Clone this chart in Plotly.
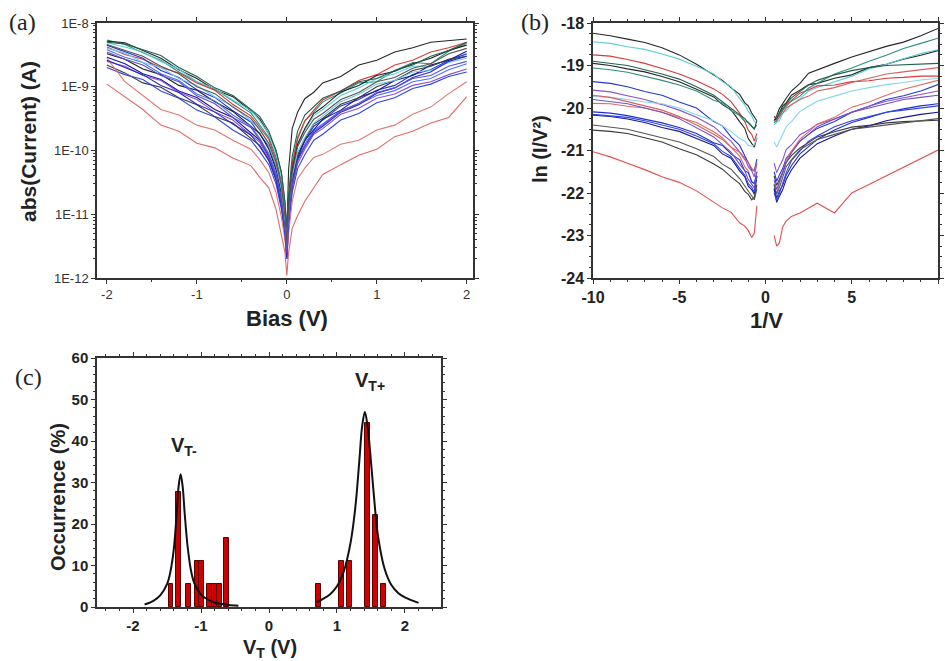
import plotly.graph_objects as go

# ---------------- Panel (a): |I| vs bias ----------------
a_bias = [-2.0, -1.8, -1.6, -1.4, -1.2, -1.0, -0.8, -0.6, -0.4, -0.3, -0.2, -0.12, -0.06, -0.02, 0.0,
          0.02, 0.06, 0.12, 0.2, 0.3, 0.4, 0.6, 0.8, 1.0, 1.2, 1.4, 1.6, 1.8, 2.0]

ia_01 = [5.4e-9, 4.6e-9, 3.4e-9, 2.6e-9, 1.7e-9, 1.2e-9, 9.2e-10, 6.0e-10, 3.9e-10, 2.5e-10, 1.6e-10, 7.9e-11, 3.2e-11, 1.0e-11, 4e-12,
         1.3e-11, 6.3e-11, 1.6e-10, 2.9e-10, 4.0e-10, 5.8e-10, 8.0e-10, 1.15e-9, 1.2e-9, 1.8e-9, 2.4e-9, 2.3e-9, 3.6e-9, 4.8e-9]
ia_02 = [5.2e-9, 4.9e-9, 3.7e-9, 2.8e-9, 1.85e-9, 1.35e-9, 9.0e-10, 7.0e-10, 4.2e-10, 3.1e-10, 1.8e-10, 1.0e-10, 4.5e-11, 1.5e-11, 5e-12,
         5e-11, 2.2e-10, 4.0e-10, 6.5e-10, 8.2e-10, 1.15e-9, 1.45e-9, 2.2e-9, 2.6e-9, 3.5e-9, 4.1e-9, 5.0e-9, 5.3e-9, 5.6e-9]
ia_03 = [4.9e-9, 4.2e-9, 3.5e-9, 2.5e-9, 1.9e-9, 1.2e-9, 9.3e-10, 6.2e-10, 4.3e-10, 2.9e-10, 1.8e-10, 9e-11, 4e-11, 1.3e-11, 5e-12,
         1.5e-11, 5e-11, 1.3e-10, 2.1e-10, 3.5e-10, 4.4e-10, 7.3e-10, 9.6e-10, 1.35e-9, 1.6e-9, 2.1e-9, 2.1e-9, 2.7e-9, 3.2e-9]
ia_04 = [4.2e-9, 3.2e-9, 2.7e-9, 2.0e-9, 1.65e-9, 1.15e-9, 8.8e-10, 5.3e-10, 3.5e-10, 2.3e-10, 1.5e-10, 7e-11, 3e-11, 1e-11, 4e-12,
         1.5e-11, 6e-11, 1.5e-10, 2.9e-10, 4.3e-10, 6.2e-10, 8.6e-10, 1.25e-9, 1.55e-9, 2.2e-9, 2.6e-9, 3.5e-9, 4.1e-9, 5.0e-9]
ia_05 = [4.5e-9, 3.5e-9, 2.8e-9, 1.8e-9, 1.4e-9, 9.0e-10, 6.8e-10, 4.2e-10, 2.8e-10, 1.8e-10, 1.15e-10, 5.5e-11, 2.2e-11, 8e-12, 3e-12,
         1e-11, 3.5e-11, 8.5e-11, 1.4e-10, 2.4e-10, 3.0e-10, 5.0e-10, 6.3e-10, 8.8e-10, 1.05e-9, 1.55e-9, 1.85e-9, 2.6e-9, 3.3e-9]
ia_06 = [3.3e-9, 2.7e-9, 1.9e-9, 1.55e-9, 1.05e-9, 8.8e-10, 5.8e-10, 4.1e-10, 2.4e-10, 1.85e-10, 1.05e-10, 5e-11, 2e-11, 7e-12, 3e-12,
         1.2e-11, 5e-11, 1.25e-10, 2.2e-10, 3.8e-10, 4.8e-10, 8.3e-10, 1.05e-9, 1.5e-9, 1.75e-9, 2.3e-9, 2.8e-9, 3.7e-9, 4.5e-9]
ia_07 = [3.8e-9, 2.9e-9, 2.4e-9, 1.6e-9, 1.25e-9, 7.7e-10, 6.0e-10, 3.6e-10, 2.4e-10, 1.55e-10, 9e-11, 4.5e-11, 1.8e-11, 6e-12, 2.5e-12,
         8e-12, 3e-11, 7.3e-11, 1.25e-10, 2.1e-10, 2.6e-10, 4.2e-10, 5.3e-10, 7.3e-10, 8.7e-10, 1.2e-9, 1.35e-9, 1.85e-9, 2.3e-9]
ia_08 = [2.9e-9, 2.3e-9, 1.6e-9, 1.3e-9, 8.6e-10, 6.8e-10, 4.4e-10, 3.3e-10, 1.9e-10, 1.45e-10, 8e-11, 4e-11, 1.6e-11, 6e-12, 2.5e-12,
         9e-12, 3.5e-11, 7.6e-11, 1.45e-10, 2.1e-10, 3.1e-10, 4.3e-10, 6.8e-10, 8.6e-10, 1.25e-9, 1.5e-9, 2.2e-9, 2.6e-9, 3.6e-9]
ia_09 = [2.5e-9, 2.1e-9, 1.5e-9, 1.25e-9, 8.2e-10, 6.3e-10, 4.0e-10, 3.0e-10, 1.75e-10, 1.35e-10, 7.5e-11, 3.6e-11, 1.5e-11, 5e-12, 2.2e-12,
         7e-12, 2.5e-11, 6.2e-11, 1.05e-10, 1.8e-10, 2.2e-10, 3.7e-10, 4.6e-10, 6.6e-10, 7.7e-10, 1.05e-9, 1.2e-9, 1.55e-9, 1.9e-9]
ia_10 = [2.2e-9, 1.65e-9, 1.15e-9, 9.8e-10, 6.7e-10, 5.2e-10, 3.4e-10, 2.7e-10, 1.55e-10, 1.2e-10, 7e-11, 3.5e-11, 1.4e-11, 5e-12, 2e-12,
         7e-12, 3e-11, 8.4e-11, 1.5e-10, 2.6e-10, 3.2e-10, 5.3e-10, 6.7e-10, 1.0e-9, 1.25e-9, 1.8e-9, 2.1e-9, 2.7e-9, 3.0e-9]
ia_11 = [2.0e-9, 1.55e-9, 1.3e-9, 8.6e-10, 6.6e-10, 4.3e-10, 3.35e-10, 2.1e-10, 1.45e-10, 9.6e-11, 6e-11, 3e-11, 1.2e-11, 4.5e-12, 2e-12,
         6e-12, 2.2e-11, 5.2e-11, 8.6e-11, 1.45e-10, 1.8e-10, 3.0e-10, 3.8e-10, 5.6e-10, 6.7e-10, 9.4e-10, 1.1e-9, 1.45e-9, 1.7e-9]
ia_12 = [4.0e-9, 3.4e-9, 2.4e-9, 2.0e-9, 1.35e-9, 1.05e-9, 6.9e-10, 5.0e-10, 2.9e-10, 2.2e-10, 1.2e-10, 6e-11, 2.5e-11, 8e-12, 3e-12,
         1e-11, 4e-11, 9.5e-11, 1.6e-10, 2.7e-10, 3.5e-10, 5.8e-10, 7.6e-10, 1.1e-9, 1.25e-9, 1.7e-9, 1.8e-9, 2.4e-9, 2.8e-9]
ia_13 = [1.1e-9, 7.0e-10, 4.4e-10, 2.5e-10, 2.0e-10, 1.3e-10, 1.1e-10, 7.6e-11, 5.8e-11, 3.8e-11, 2.6e-11, 1.2e-11, 4.5e-12, 2.5e-12, 1.1e-12,
         2.5e-12, 6e-12, 9.5e-12, 1.6e-11, 2.6e-11, 4.2e-11, 6.0e-11, 8.4e-11, 1.05e-10, 1.65e-10, 2.0e-10, 2.7e-10, 3.3e-10, 7.0e-10]
ia_14 = [2.8e-9, 1.2e-9, 7.3e-10, 4.4e-10, 3.6e-10, 2.5e-10, 2.1e-10, 1.45e-10, 1.05e-10, 7.2e-11, 4.5e-11, 2.2e-11, 9e-12, 4e-12, 2e-12,
         5e-12, 1.6e-11, 3.6e-11, 5.3e-11, 7.8e-11, 8.7e-11, 1.25e-10, 1.45e-10, 2.1e-10, 2.5e-10, 3.7e-10, 4.8e-10, 7.8e-10, 1.2e-9]
ia_15 = [5.0e-9, 4.7e-9, 3.8e-9, 3.1e-9, 2.0e-9, 1.45e-9, 9.6e-10, 7.3e-10, 4.4e-10, 3.4e-10, 2.0e-10, 1.0e-10, 4.5e-11, 1.5e-11, 6e-12,
         2e-11, 8e-11, 2.0e-10, 3.6e-10, 4.8e-10, 6.6e-10, 8.6e-10, 1.2e-9, 1.35e-9, 1.8e-9, 2.2e-9, 3.0e-9, 3.7e-9, 5.0e-9]
ia_16 = [2.6e-9, 2.0e-9, 1.55e-9, 1.05e-9, 8.1e-10, 5.3e-10, 4.0e-10, 2.6e-10, 1.75e-10, 1.15e-10, 7e-11, 3.5e-11, 1.4e-11, 5e-12, 2e-12,
         8e-12, 3e-11, 7.3e-11, 1.15e-10, 1.9e-10, 2.4e-10, 4.0e-10, 5.2e-10, 7.9e-10, 9.6e-10, 1.4e-9, 1.7e-9, 2.5e-9, 3.0e-9]
ia_17 = [4.6e-9, 3.7e-9, 3.0e-9, 2.1e-9, 1.6e-9, 1.0e-9, 7.8e-10, 4.8e-10, 3.2e-10, 2.1e-10, 1.3e-10, 6.5e-11, 2.8e-11, 9e-12, 3.5e-12,
         1.2e-11, 4.5e-11, 1.15e-10, 1.9e-10, 3.1e-10, 3.8e-10, 6.3e-10, 8.1e-10, 1.2e-9, 1.4e-9, 1.95e-9, 2.3e-9, 3.3e-9, 4.0e-9]
ia_18 = [3.5e-9, 2.7e-9, 2.2e-9, 1.5e-9, 1.2e-9, 7.2e-10, 5.4e-10, 3.3e-10, 2.3e-10, 1.45e-10, 8.5e-11, 4e-11, 1.6e-11, 5.5e-12, 2.5e-12,
         8e-12, 2.8e-11, 6.8e-11, 1.15e-10, 2.0e-10, 2.5e-10, 4.2e-10, 5.5e-10, 8.1e-10, 9.6e-10, 1.35e-9, 1.5e-9, 2.1e-9, 2.5e-9]

a_curves = [ia_01, ia_02, ia_03, ia_04, ia_05, ia_06, ia_07, ia_08, ia_09,
            ia_10, ia_11, ia_12, ia_13, ia_14, ia_15, ia_16, ia_17, ia_18]
a_colors = ["#2f8f80", "#262626", "#5ccfd8", "#d83a3a", "#2636d8", "#1e1e1e", "#4a70ff", "#1414a0", "#8a50d0",
            "#3a3a3a", "#3044e8", "#70c8e8", "#e06a6a", "#e07878", "#24604c", "#2828c8", "#555555", "#6050c8"]
a_xtick_vals = [-2, -1, 0, 1, 2]
a_xtick_text = ["-2", "-1", "0", "1", "2"]
a_ytick_vals = [1e-12, 1e-11, 1e-10, 1e-9, 1e-8]
a_ytick_text = ["1E-12", "1E-11", "1E-10", "1E-9", "1E-8"]

# ---------------- Panel (b): ln(I/V^2) vs 1/V ----------------
b_inv_v = [-10, -9, -8, -7, -6, -5, -4, -3, -2.5, -2, -1.5, -1.2, -1, -0.8, -0.65, -0.5, None,
           0.5, 0.65, 0.8, 1, 1.2, 1.5, 2, 2.5, 3, 4, 5, 6, 7, 8, 9, 10]

lb_01 = [-18.24, -18.30, -18.38, -18.46, -18.58, -18.75, -18.97, -19.22, -19.35, -19.52, -19.68, -19.88, -19.95, -20.12, -20.2, -20.3, None,
         -20.3, -20.25, -20.12, -19.95, -19.88, -19.7, -19.58, -19.45, -19.42, -19.3, -19.22, -19.05, -18.97, -18.85, -18.76, -18.65]
lb_02 = [-18.44, -18.48, -18.56, -18.62, -18.73, -18.85, -19.02, -19.2, -19.38, -19.5, -19.78, -19.93, -20.08, -20.18, -20.32, -20.35, None,
         -20.4, -20.33, -20.3, -20.12, -20.06, -19.92, -19.78, -19.6, -19.52, -19.38, -19.25, -19.08, -18.97, -18.84, -18.72, -18.63]
lb_03 = [-18.75, -18.78, -18.86, -18.95, -19.07, -19.2, -19.36, -19.55, -19.68, -19.85, -20.12, -20.32, -20.52, -20.62, -20.78, -20.6, None,
         -20.2, -20.27, -20.18, -20.06, -19.93, -19.82, -19.65, -19.57, -19.48, -19.46, -19.38, -19.36, -19.3, -19.28, -19.25, -19.25]
lb_04 = [-18.95, -19.0, -19.08, -19.15, -19.26, -19.38, -19.56, -19.74, -19.92, -20.04, -20.32, -20.48, -20.72, -20.84, -20.92, -20.7, None,
         -20.3, -20.18, -20.02, -19.88, -19.77, -19.6, -19.42, -19.18, -19.1, -18.95, -18.8, -18.68, -18.55, -18.45, -18.3, -18.13]
lb_05 = [-19.06, -19.1, -19.16, -19.25, -19.35, -19.46, -19.6, -19.82, -19.88, -20.06, -20.18, -20.32, -20.33, -20.42, -20.48, -20.4, None,
         -20.35, -20.28, -20.22, -20.04, -19.96, -19.84, -19.72, -19.53, -19.42, -19.2, -19.06, -18.9, -18.76, -18.6, -18.48, -18.36]
lb_06 = [-19.38, -19.42, -19.5, -19.61, -19.7, -19.86, -20.0, -20.32, -20.42, -20.68, -20.88, -21.14, -21.28, -21.45, -21.48, -21.2, None,
         -21.5, -21.72, -21.58, -21.42, -21.18, -21.03, -20.78, -20.62, -20.48, -20.32, -20.1, -19.96, -19.8, -19.71, -19.6, -19.45]
lb_07 = [-19.58, -19.62, -19.71, -19.8, -19.92, -20.05, -20.22, -20.44, -20.62, -20.78, -21.04, -21.18, -21.38, -21.48, -21.62, -21.3, None,
         -21.3, -21.52, -21.38, -21.22, -20.98, -20.87, -20.63, -20.52, -20.38, -20.26, -20.1, -19.96, -19.84, -19.76, -19.68, -19.6]
lb_08 = [-19.73, -19.75, -19.8, -19.86, -19.9, -20.0, -20.16, -20.3, -20.42, -20.55, -20.72, -20.78, -20.88, -20.9, -20.86, -20.7, None,
         -20.8, -20.92, -20.78, -20.62, -20.44, -20.32, -20.08, -19.96, -19.84, -19.72, -19.6, -19.52, -19.45, -19.4, -19.34, -19.3]
lb_09 = [-19.89, -19.9, -19.96, -20.0, -20.1, -20.22, -20.34, -20.56, -20.7, -20.92, -21.13, -21.38, -21.48, -21.72, -21.78, -21.7, None,
         -21.9, -22.02, -21.78, -21.52, -21.22, -21.02, -20.73, -20.56, -20.38, -20.22, -19.98, -19.86, -19.7, -19.56, -19.45, -19.35]
lb_10 = [-20.09, -20.12, -20.18, -20.26, -20.35, -20.46, -20.6, -20.82, -20.88, -21.08, -21.22, -21.48, -21.52, -21.74, -21.78, -21.5, None,
         -21.8, -22.12, -21.96, -21.82, -21.58, -21.36, -21.08, -20.92, -20.74, -20.52, -20.34, -20.22, -20.1, -20.02, -19.95, -19.9]
lb_11 = [-20.17, -20.2, -20.26, -20.34, -20.46, -20.55, -20.72, -20.88, -21.08, -21.18, -21.48, -21.62, -21.84, -21.92, -22.02, -21.6, None,
         -21.9, -22.22, -22.08, -21.92, -21.68, -21.46, -21.18, -21.02, -20.84, -20.66, -20.5, -20.42, -20.3, -20.22, -20.15, -20.1]
lb_12 = [-20.52, -20.55, -20.6, -20.7, -20.8, -20.96, -21.1, -21.32, -21.44, -21.62, -21.78, -21.96, -22.03, -22.16, -22.1, -21.8, None,
         -21.6, -21.82, -21.68, -21.52, -21.28, -21.12, -20.94, -20.82, -20.68, -20.56, -20.45, -20.41, -20.35, -20.32, -20.3, -20.29]
lb_13 = [-21.03, -21.15, -21.3, -21.45, -21.62, -21.75, -21.95, -22.22, -22.35, -22.45, -22.7, -22.78, -22.88, -23.05, -22.95, -22.3, None,
         -23.0, -23.25, -23.18, -22.8, -22.66, -22.55, -22.47, -22.36, -22.24, -22.47, -22.0, -21.8, -21.6, -21.4, -21.2, -20.99]
lb_14 = [-18.9, -18.95, -19.0, -19.1, -19.2, -19.32, -19.5, -19.7, -19.85, -20.0, -20.15, -20.25, -20.35, -20.45, -20.5, -20.3, None,
         -20.2, -20.25, -20.12, -20.0, -19.9, -19.76, -19.6, -19.46, -19.35, -19.22, -19.12, -19.05, -19.0, -18.98, -18.96, -18.95]
lb_15 = [-20.15, -20.18, -20.22, -20.3, -20.4, -20.5, -20.66, -20.84, -21.02, -21.14, -21.42, -21.58, -21.78, -21.86, -21.98, -21.6, None,
         -22.0, -22.18, -22.02, -21.74, -21.52, -21.24, -21.02, -20.78, -20.66, -20.44, -20.3, -20.2, -20.1, -20.05, -20.0, -19.95]
lb_16 = [-19.8, -19.85, -19.9, -20.0, -20.1, -20.25, -20.46, -20.68, -20.86, -21.04, -21.32, -21.48, -21.68, -21.78, -21.88, -21.5, None,
         -21.7, -21.92, -21.74, -21.52, -21.28, -21.06, -20.78, -20.62, -20.44, -20.26, -20.1, -20.0, -19.9, -19.8, -19.75, -19.7]
lb_17 = [-20.4, -20.45, -20.5, -20.6, -20.7, -20.8, -20.96, -21.14, -21.32, -21.44, -21.66, -21.84, -21.97, -22.08, -22.16, -21.9, None,
         -21.8, -22.02, -21.88, -21.62, -21.38, -21.22, -20.98, -20.86, -20.74, -20.62, -20.5, -20.45, -20.4, -20.35, -20.3, -20.25]
lb_18 = [-19.7, -19.75, -19.85, -19.95, -20.05, -20.2, -20.4, -20.62, -20.74, -20.92, -21.04, -21.22, -21.28, -21.42, -21.48, -21.3, None,
         -20.3, -20.32, -20.2, -20.12, -20.0, -19.92, -19.8, -19.72, -19.6, -19.52, -19.4, -19.3, -19.2, -19.15, -19.1, -19.05]

b_curves = [lb_01, lb_02, lb_03, lb_04, lb_05, lb_06, lb_07, lb_08, lb_09,
            lb_10, lb_11, lb_12, lb_13, lb_14, lb_15, lb_16, lb_17, lb_18]
b_colors = ["#262626", "#5ccfd8", "#d83a3a", "#262626", "#2f8f80", "#2636d8", "#8a50d0", "#80d8e8", "#e06a6a",
            "#2030c8", "#1414a0", "#3a3a3a", "#e05050", "#24604c", "#3044e8", "#7050c8", "#555555", "#d86060"]
b_xtick_vals = [-10, -5, 0, 5, 10]
b_xtick_text = ["<b>-10</b>", "<b>-5</b>", "<b>0</b>", "<b>5</b>", "<b>10</b>"]
b_ytick_vals = [-24, -23, -22, -21, -20, -19, -18]
b_ytick_text = ["<b>-24</b>", "<b>-23</b>", "<b>-22</b>", "<b>-21</b>", "<b>-20</b>", "<b>-19</b>", "<b>-18</b>"]

# ---------------- Panel (c): histogram of V_T ----------------
c_neg_vt = [-1.44, -1.335, -1.18, -1.06, -0.995, -0.875, -0.80, -0.725, -0.63]
c_neg_occ = [5.56, 27.78, 5.56, 11.11, 11.11, 5.56, 5.56, 5.56, 16.67]
c_pos_vt = [0.73, 1.07, 1.19, 1.455, 1.56, 1.685]
c_pos_occ = [5.56, 11.11, 11.11, 44.44, 22.22, 5.56]

c_fit_neg_x = [-1.83, -1.70, -1.60, -1.50, -1.45, -1.40, -1.36, -1.33, -1.30, -1.27, -1.24, -1.20, -1.15,
               -1.10, -1.00, -0.90, -0.80, -0.70, -0.60, -0.45]
c_fit_neg_y = [0.6, 1.5, 2.8, 5.5, 8.5, 14.0, 22.0, 29.0, 32.0, 29.0, 22.5, 15.0, 9.0,
               5.8, 3.0, 1.8, 1.1, 0.7, 0.5, 0.3]
c_fit_pos_x = [0.70, 0.80, 0.90, 1.00, 1.10, 1.20, 1.27, 1.33, 1.37, 1.41, 1.45, 1.50, 1.55, 1.60,
               1.70, 1.80, 1.90, 2.00, 2.10, 2.20]
c_fit_pos_y = [1.1, 2.0, 3.1, 5.0, 8.6, 15.5, 24.0, 35.5, 43.5, 47.0, 43.5, 35.0, 25.5, 17.5,
               9.2, 5.3, 3.4, 2.3, 1.6, 1.0]
c_xtick_vals = [-2, -1, 0, 1, 2]
c_xtick_text = ["<b>-2</b>", "<b>-1</b>", "<b>0</b>", "<b>1</b>", "<b>2</b>"]
c_ytick_vals = [0, 10, 20, 30, 40, 50, 60]
c_ytick_text = ["<b>0</b>", "<b>10</b>", "<b>20</b>", "<b>30</b>", "<b>40</b>", "<b>50</b>", "<b>60</b>"]

fig = go.Figure()

for vals, col in zip(a_curves, a_colors):
    fig.add_trace(go.Scatter(x=a_bias, y=vals, mode="lines", line=dict(color=col, width=1.1),
                             xaxis="x", yaxis="y", showlegend=False, hoverinfo="skip"))

for vals, col in zip(b_curves, b_colors):
    fig.add_trace(go.Scatter(x=b_inv_v, y=vals, mode="lines", line=dict(color=col, width=1.1),
                             connectgaps=False, xaxis="x2", yaxis="y2", showlegend=False, hoverinfo="skip"))

bar_style = dict(color="#d00000", line=dict(color="#5a0000", width=1))
fig.add_trace(go.Bar(x=c_neg_vt, y=c_neg_occ, width=0.07, marker=bar_style, xaxis="x3", yaxis="y3", showlegend=False))
fig.add_trace(go.Bar(x=c_pos_vt, y=c_pos_occ, width=0.075, marker=bar_style, xaxis="x3", yaxis="y3", showlegend=False))
fig.add_trace(go.Scatter(x=c_fit_neg_x, y=c_fit_neg_y, mode="lines", line=dict(color="#111111", width=2, shape="spline"),
                         xaxis="x3", yaxis="y3", showlegend=False))
fig.add_trace(go.Scatter(x=c_fit_pos_x, y=c_fit_pos_y, mode="lines", line=dict(color="#111111", width=2, shape="spline"),
                         xaxis="x3", yaxis="y3", showlegend=False))

W, H = 945, 661
def px_x(p):
    return p / W
def px_y(p):
    return 1 - p / H

FONT = "Arial, Liberation Sans, sans-serif"
axis_common = dict(showline=True, linecolor="#333333", linewidth=1.5, mirror="allticks", ticks="outside",
                   tickcolor="#333333", showgrid=False, zeroline=False, automargin=False, ticklen=4)

log_minor = [m * 10.0 ** e for e in range(-12, -8) for m in range(2, 10)]
small_font = dict(family=FONT, size=13, color="#333333")
bold_font_b = dict(family=FONT, size=16, color="#222222")
bold_font_c = dict(family=FONT, size=15, color="#222222")

fig.update_layout(
    width=W, height=H, margin=dict(l=0, r=0, t=0, b=0, autoexpand=False),
    paper_bgcolor="white", plot_bgcolor="white", bargap=0, barmode="overlay",
    xaxis=dict(domain=[px_x(97), px_x(473)], anchor="y", range=[-2.11, 2.07],
               tickmode="array", tickvals=a_xtick_vals, ticktext=a_xtick_text, tickfont=small_font,
               minor=dict(ticks="outside", ticklen=2, dtick=0.5, tick0=0, tickcolor="#333333"),
               **axis_common),
    yaxis=dict(domain=[px_y(278), px_y(23)], anchor="x", type="log", range=[-12, -8],
               tickmode="array", tickvals=a_ytick_vals, ticktext=a_ytick_text, tickfont=small_font,
               minor=dict(ticks="outside", ticklen=2, tickvals=log_minor, tickcolor="#333333"),
               **axis_common),
    xaxis2=dict(domain=[px_x(593), px_x(938)], anchor="y2", range=[-10, 10],
                tickmode="array", tickvals=b_xtick_vals, ticktext=b_xtick_text, tickfont=bold_font_b,
                minor=dict(ticks="outside", ticklen=2, dtick=1, tick0=0, tickcolor="#333333"),
                **axis_common),
    yaxis2=dict(domain=[px_y(278), px_y(23)], anchor="x2", range=[-24, -18],
                tickmode="array", tickvals=b_ytick_vals, ticktext=b_ytick_text, tickfont=bold_font_b,
                minor=dict(ticks="outside", ticklen=2, dtick=0.25, tick0=0, tickcolor="#333333"),
                **axis_common),
    xaxis3=dict(domain=[px_x(97), px_x(441)], anchor="y3", range=[-2.53, 2.53],
                tickmode="array", tickvals=c_xtick_vals, ticktext=c_xtick_text, tickfont=bold_font_c,
                minor=dict(ticks="outside", ticklen=2, dtick=0.2, tick0=0, tickcolor="#333333"),
                **axis_common),
    yaxis3=dict(domain=[px_y(607), px_y(358)], anchor="x3", range=[0, 60],
                tickmode="array", tickvals=c_ytick_vals, ticktext=c_ytick_text, tickfont=bold_font_c,
                minor=dict(ticks="outside", ticklen=2, dtick=2, tick0=0, tickcolor="#333333"),
                **axis_common),
)

def ann(text, x, y, size, angle=0, family=FONT, color="#222222"):
    fig.add_annotation(text=text, x=px_x(x), y=px_y(y), xref="paper", yref="paper",
                       showarrow=False, textangle=angle, xanchor="center", yanchor="middle",
                       font=dict(family=family, size=size, color=color))

SERIF = "Liberation Serif, Times New Roman, serif"
ann("(a)", 22, 22, 24, family=SERIF)
ann("(b)", 535, 22, 24, family=SERIF)
ann("(c)", 28, 377, 24, family=SERIF)

ann("<b>abs(Current) (A)</b>", 28, 142, 21, angle=-90)
ann("<b>Bias (V)</b>", 287, 318, 22)
ann("<b>ln (I/V²)</b>", 540, 149, 20, angle=-90)
ann("<b>1/V</b>", 766, 320, 22)
ann("<b>Occurrence (%)</b>", 58, 497, 20, angle=-90)
ann("<b>V<sub>T</sub> (V)</b>", 270, 648, 20)
ann("<b>V<sub>T-</sub></b>", 184, 446, 20)
ann("<b>V<sub>T+</sub></b>", 370, 381, 20)

fig.write_html("out.html", config={"displayModeBar": False},
               post_script="document.body.style.margin='0px';document.body.style.padding='0px';")
